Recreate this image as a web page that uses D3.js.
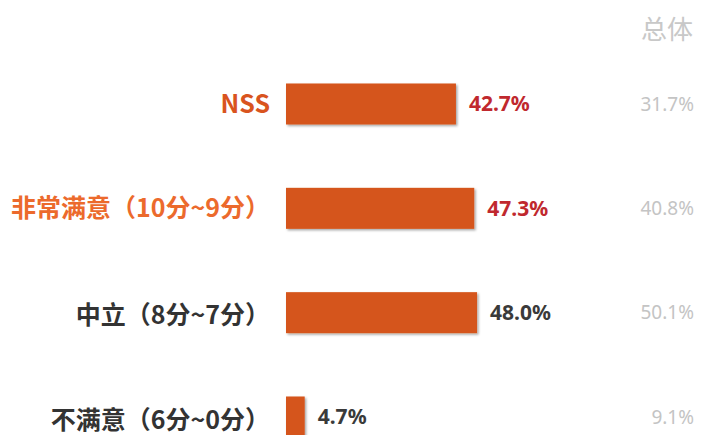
<!DOCTYPE html>
<html>
<head>
<meta charset="utf-8">
<script src="https://cdn.jsdelivr.net/npm/d3@7"></script>
<style>
    body { margin: 0; background: #fff; }
    svg { display: block; }
    .catLabel { font-family: "Noto Sans CJK SC", "Noto Sans", sans-serif; font-weight: 700; font-size: 25px; }
    .valLabel { font-family: "Noto Sans", "Open Sans", sans-serif; font-weight: 700; font-size: 21px; }
    .totLabel { font-family: "Noto Sans", "Open Sans", sans-serif; font-size: 19px; fill: #c4c4c4; }
    .totTitle { font-family: "Noto Sans CJK SC", sans-serif; font-size: 26px; fill: #c8c8c8; }
</style>
</head>
<body>
<svg id="chart" width="702" height="435"></svg>
<script>
var categories = ['NSS', '非常满意（10分~9分）', '中立（8分~7分）', '不满意（6分~0分）'];
var values = [42.7, 47.3, 48.0, 4.7];
var totals = [31.7, 40.8, 50.1, 9.1];
var totalTitle = '总体';

var labelColors = ['#d9541e', '#ec6a2c', '#333333', '#333333'];
var valueColors = ['#c0282e', '#c0282e', '#3a3a3a', '#3a3a3a'];

var svg = d3.select('#chart');

var x = d3.scaleLinear().domain([0, 100]).range([286, 684]);
var y = d3.scalePoint().domain(categories).range([104, 417]);
var barH = 41;

// soft shadow on the bars
var defs = svg.append('defs');
var f = defs.append('filter').attr('id', 'shadow')
    .attr('x', '-10%').attr('y', '-10%').attr('width', '130%').attr('height', '140%');
f.append('feDropShadow')
    .attr('dx', 1.5).attr('dy', 1.5).attr('stdDeviation', 1)
    .attr('flood-color', '#000').attr('flood-opacity', 0.35);

var row = svg.selectAll('.row')
    .data(categories)
    .enter().append('g').classed('row', true);

row.append('rect')
    .attr('x', x(0))
    .attr('y', function(c) { return y(c) - barH / 2; })
    .attr('width', function(c, i) { return x(values[i]) - x(0); })
    .attr('height', barH)
    .attr('fill', '#d5541b')
    .attr('filter', 'url(#shadow)');

row.append('text').classed('catLabel', true)
    .attr('x', 270)
    .attr('y', function(c, i) { return y(c) + (i > 1 ? 3 : 0); })
    .attr('dy', '0.35em')
    .attr('text-anchor', 'end')
    .attr('fill', function(c, i) { return labelColors[i]; })
    .text(function(c) { return c; });

row.append('text').classed('valLabel', true)
    .attr('x', function(c, i) { return x(values[i]) + 13; })
    .attr('y', function(c) { return y(c); })
    .attr('dy', '0.35em')
    .attr('fill', function(c, i) { return valueColors[i]; })
    .text(function(c, i) { return values[i].toFixed(1) + '%'; });

row.append('text').classed('totLabel', true)
    .attr('x', 694)
    .attr('y', function(c) { return y(c); })
    .attr('dy', '0.35em')
    .attr('text-anchor', 'end')
    .text(function(c, i) { return totals[i].toFixed(1) + '%'; });

svg.append('text').classed('totTitle', true)
    .attr('x', 693)
    .attr('y', 30)
    .attr('dy', '0.35em')
    .attr('text-anchor', 'end')
    .text(totalTitle);
</script>
</body>
</html>
